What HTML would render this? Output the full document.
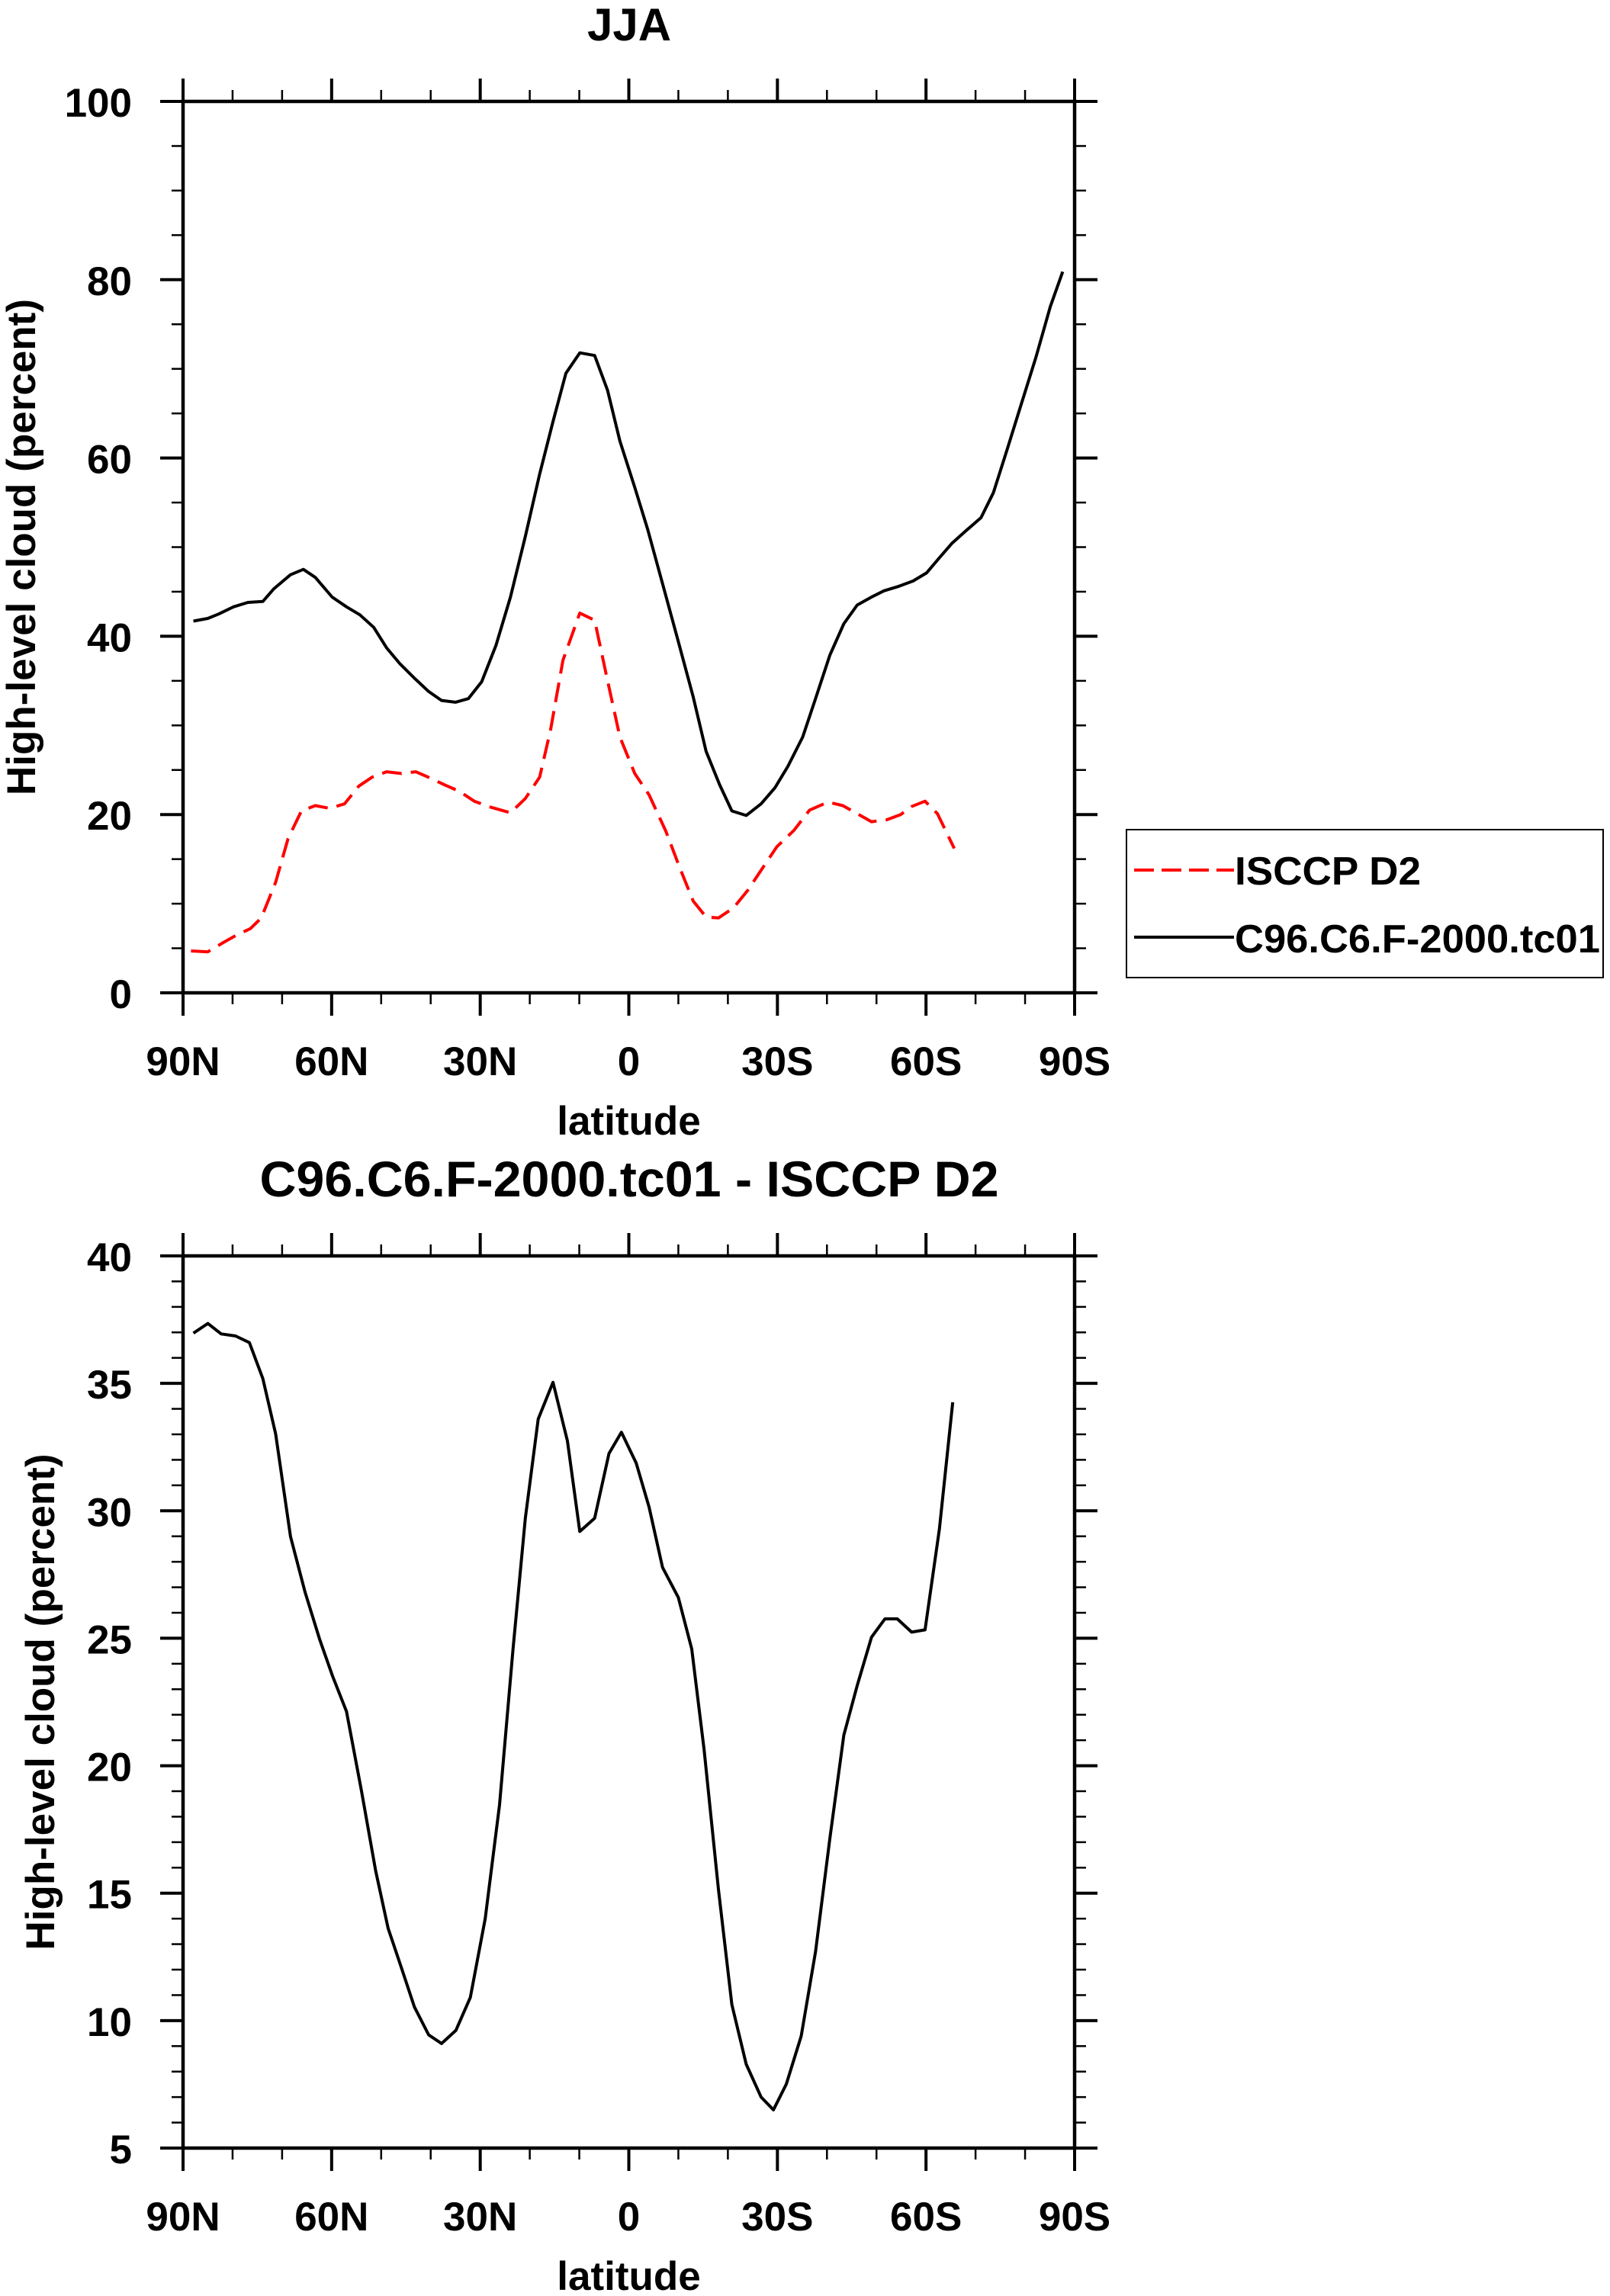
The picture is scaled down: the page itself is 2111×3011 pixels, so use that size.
<!DOCTYPE html>
<html><head><meta charset="utf-8"><style>
html,body{margin:0;padding:0;background:#fff;}
svg{display:block;font-family:"Liberation Sans",Arial,sans-serif;font-weight:bold;}
</style></head><body>
<svg id="svg" width="2111" height="3011" viewBox="0 0 2111 3011" xmlns="http://www.w3.org/2000/svg">
<text x="825" y="53" font-size="60" text-anchor="middle">JJA</text>
<text x="825" y="1569" font-size="66" text-anchor="middle" textLength="969" lengthAdjust="spacingAndGlyphs">C96.C6.F-2000.tc01 - ISCCP D2</text>
<g id="top"></g>
<g id="bot"></g>
<g>
<rect x="1477" y="1088" width="625" height="194" fill="none" stroke="#000" stroke-width="2"/>
<line x1="1487" y1="1141" x2="1618" y2="1141" stroke="#f00" stroke-width="4" stroke-dasharray="26 10"/>
<text x="1619" y="1160" font-size="52" textLength="244" lengthAdjust="spacingAndGlyphs">ISCCP D2</text>
<line x1="1487" y1="1229" x2="1618" y2="1229" stroke="#000" stroke-width="4"/>
<text x="1619" y="1249" font-size="52" textLength="479" lengthAdjust="spacingAndGlyphs">C96.C6.F-2000.tc01</text>
</g>
</svg>
<script>
const topLat = [87.9,85,82.8,79.8,76.9,73.9,71.7,68.3,65.7,63.3,59.9,57,54.3,51.5,48.9,46.2,43.3,40.4,37.8,35,32.4,29.7,26.8,23.9,20.9,18,15.3,12.7,9.9,6.9,4.3,1.8,-1.2,-3.8,-6.8,-10,-13,-15.6,-18.3,-20.8,-23.7,-26.7,-29.5,-32.1,-35.1,-37.7,-40.6,-43.4,-46.1,-49,-51.5,-54.5,-57.4,-60.1,-62.7,-65.2,-68.2,-71.1,-73.6,-76.3,-79.2,-82.2,-85.1,-87.6];
const modelVals = [41.7,42.0,42.5,43.3,43.8,43.9,45.3,46.9,47.5,46.6,44.4,43.3,42.4,41.0,38.7,36.9,35.3,33.8,32.8,32.6,33.0,34.9,39.0,44.4,51.2,58.2,64.1,69.5,71.8,71.5,67.6,61.9,56.7,52.0,45.9,39.4,33.2,27.1,23.4,20.4,19.9,21.2,23.0,25.4,28.7,33.0,37.9,41.4,43.5,44.4,45.1,45.6,46.2,47.1,48.8,50.4,51.9,53.3,56.1,60.8,66.0,71.3,77.0,80.9];
const obsLat = [88.4,85,82,79.1,76.4,74.2,71.3,68.8,66.1,63.3,60.4,57.4,54.5,51.8,48.9,45.9,43,40.1,37.1,34.2,31.2,28.3,23.9,20.9,18,15.8,13.3,9.9,6.9,4.4,1.8,-1.2,-4.1,-7.5,-10.3,-13,-15.6,-18.1,-21.1,-24,-27,-29.9,-33.3,-36.5,-40.2,-43.2,-46.1,-49,-52,-54.9,-57.1,-59.8,-62.3,-65.7];
const obsVals = [4.7,4.6,5.6,6.5,7.2,8.4,12.4,17.3,20.4,21.0,20.7,21.2,23.2,24.2,24.8,24.6,24.8,24.1,23.3,22.6,21.5,20.9,20.2,21.8,24.2,29.5,37.3,42.6,41.8,35.3,28.7,24.6,22.2,18.1,14.0,10.3,8.5,8.4,9.5,11.5,14.0,16.4,18.2,20.5,21.4,21.0,20.1,19.2,19.4,20.0,20.9,21.5,20.1,16.2];
const diffLat = [87.9,85,82.3,79.4,76.6,73.9,71.3,68.3,65.4,62.4,59.8,57,54,51.1,48.6,46,43.3,40.4,37.8,34.9,32,29,26.1,23.4,20.9,18.3,15.3,12.4,9.9,6.9,4,1.5,-1.5,-4.1,-6.8,-10,-12.7,-15.2,-18.1,-20.8,-23.7,-26.7,-29.2,-31.8,-34.8,-37.7,-40.6,-43.4,-46.1,-49,-51.7,-54.2,-57.1,-59.8,-62.7,-65.4];
const diffVals = [36.97,37.35,36.94,36.86,36.6,35.19,33.02,28.99,26.83,24.95,23.51,22.13,19.04,15.87,13.62,12.12,10.54,9.44,9.10,9.62,10.91,14.0,18.47,24.52,29.71,33.6,35.04,32.74,29.19,29.71,32.25,33.08,31.87,30.14,27.78,26.6,24.58,20.63,15.15,10.63,8.29,7.0,6.5,7.51,9.39,12.7,17.17,21.2,23.14,25.04,25.76,25.76,25.24,25.33,29.28,34.26];
const xTickVals = [90,60,30,0,-30,-60,-90];
const xTickLabels = ["90N","60N","30N","0","30S","60S","90S"];
const topYTicks = [0,20,40,60,80,100];
const botYTicks = [5,10,15,20,25,30,35,40];

const NS="http://www.w3.org/2000/svg";
function mk(parent, tag, attrs){const e=document.createElementNS(NS,tag);for(const k in attrs)e.setAttribute(k,attrs[k]);parent.appendChild(e);return e;}

function drawPanel(g, ymin, ymax, top, bottom, yTicks, minorStep, yLabelX, series){
  const L=240,R=1409;
  const xs=lat=>L+(90-lat)/180*(R-L);
  const ys=v=>bottom-(v-ymin)/(ymax-ymin)*(bottom-top);
  series.forEach(s=>{
    const d=s.lat.map((la,i)=>(i?'L':'M')+xs(la).toFixed(1)+' '+ys(s.vals[i]).toFixed(1)).join(' ');
    const p=mk(g,'path',{d:d,fill:'none',stroke:s.color,'stroke-width':4,'stroke-linejoin':'round'});
    if(s.dash)p.setAttribute('stroke-dasharray',s.dash);
    
    
  });
  for(let v=ymin; v<=ymax+1e-9; v+=minorStep){
    const y=ys(v);
    const major=yTicks.some(t=>Math.abs(t-v)<1e-9);
    const len=major?30:15, w=major?4:2.5;
    const t1=mk(g,'line',{x1:L-len,y1:y,x2:L,y2:y,stroke:'#000','stroke-width':w});
    
    
    const t2=mk(g,'line',{x1:R,y1:y,x2:R+len,y2:y,stroke:'#000','stroke-width':w});
    
    
  }
  yTicks.forEach(v=>{
    const t=mk(g,'text',{x:173,y:ys(v)+20,'font-size':53,'text-anchor':'end'});
    t.textContent=v;
    
    
  });
  for(let la=90; la>=-90; la-=10){
    const x=xs(la);
    const major=la%30===0;
    const len=major?30:15, w=major?4:2.5;
    const a=mk(g,'line',{x1:x,y1:bottom,x2:x,y2:bottom+len,stroke:'#000','stroke-width':w});
    
    
    const b=mk(g,'line',{x1:x,y1:top-len,x2:x,y2:top,stroke:'#000','stroke-width':w});
    
    
  }
  xTickVals.forEach((la,i)=>{
    const t=mk(g,'text',{x:xs(la),y:bottom+108,'font-size':53,'text-anchor':'middle'});
    t.textContent=xTickLabels[i];
    
    
  });
  const fr=mk(g,'rect',{x:L,y:top,width:R-L,height:bottom-top,fill:'none',stroke:'#000','stroke-width':4.5});
  
  
  const xl=mk(g,'text',{x:(L+R)/2,y:bottom+186,'font-size':53,'text-anchor':'middle'});
  xl.textContent='latitude';
  
  
  const cy=(top+bottom)/2;
  const yl=mk(g,'text',{x:yLabelX,y:cy,'font-size':53,'text-anchor':'middle',transform:`rotate(-90 ${yLabelX} ${cy})`,textLength:651,lengthAdjust:'spacingAndGlyphs'});
  yl.textContent='High-level cloud (percent)';
  
  
}
drawPanel(document.getElementById('top'),0,100,133,1302,topYTicks,5,46,[
  {lat:obsLat,vals:obsVals,color:'#f00',dash:'26 12',name:'isccp-d2-line'},
  {lat:topLat,vals:modelVals,color:'#000',name:'model-line'}
]);
drawPanel(document.getElementById('bot'),5,40,1647,2817,botYTicks,1,71,[
  {lat:diffLat,vals:diffVals,color:'#000',name:'difference-line'}
]);
</script>
</body></html>
